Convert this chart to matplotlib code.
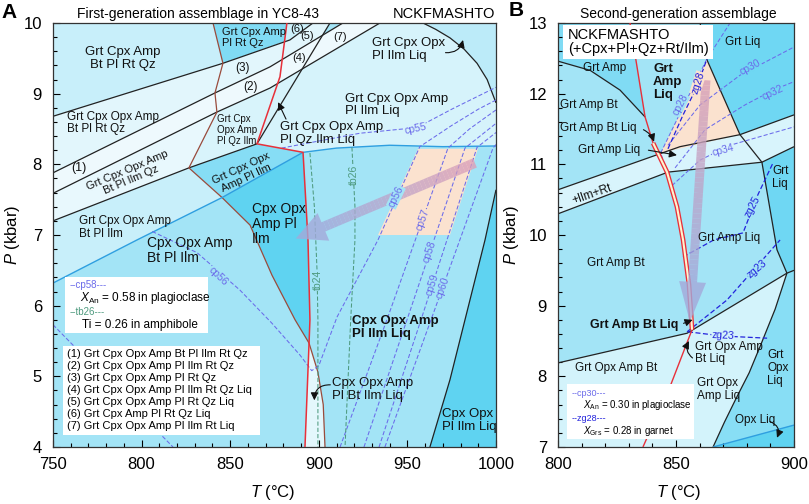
import numpy as np
import matplotlib
matplotlib.use("Agg")
import matplotlib.pyplot as plt
from matplotlib.patches import Polygon, Rectangle, FancyArrowPatch
from matplotlib.collections import LineCollection
from matplotlib.ticker import MultipleLocator
from matplotlib.colors import to_rgb

plt.rcParams["font.family"] = ["Liberation Sans", "DejaVu Sans"]
plt.rcParams["mathtext.fontset"] = "custom"
plt.rcParams["mathtext.rm"] = "Liberation Sans"
plt.rcParams["mathtext.it"] = "Liberation Sans:italic"

# ---- colours ----
C_PALE = "#eef9fd"
C_VLIGHT = "#e2f6fc"
C_LIGHT = "#c8effa"
C_MED = "#a3e4f6"
C_DARK = "#80dbf4"
C_DARKEST = "#5fd3f1"
PEACH = "#fbe2cf"
RED = "#e8303a"
BROWN = "#9a4b3c"
BLUE = "#2f9fe0"
ISO = "#6b6bea"
ZG = "#2323dc"
GREEN = "#4e9a7e"

# ---- panel A: phase boundaries (T degC, P kbar) ----
A_L1 = [(750, 8.68), (845.9, 9.43), (883.7, 9.76), (896.7, 10.0)]
A_L2 = [(750, 7.88), (841.4, 9.01), (872.5, 9.38), (913.6, 10.0)]
A_L3 = [(750, 7.59), (842.5, 8.74), (872.5, 9.08), (934.5, 10.0)]
A_L4 = [(750, 7.20), (826.7, 7.95), (865.1, 8.29)]
A_QZ_OUT = [(865.1, 8.29), (906.3, 10.0)]
A_BROWN = [(840.3, 10.0), (845.9, 9.43), (841.4, 9.01), (842.5, 8.74), (826.7, 7.95),
           (845.4, 7.53), (861.2, 7.14), (873.6, 6.43), (886.6, 5.80), (894.5, 5.47),
           (899.5, 5.06), (902.5, 4.6), (903.5, 4.0)]
A_RED = [(882.0, 10.0), (878.1, 9.24), (865.1, 8.29), (891.1, 8.17), (893.9, 6.93),
         (895.0, 5.80), (894.5, 5.47), (892.2, 4.0)]
A_GRT_OUT = [(750, 6.32), (797.4, 6.93), (845.4, 7.53), (891.1, 8.17)]
A_LIQ = [(891.1, 8.17), (910, 8.23), (940, 8.27), (970, 8.25), (1000, 8.26)]
A_ARC = [(958.8, 10.0), (966, 9.91), (974, 9.79), (982, 9.63), (989.3, 9.43),
         (995, 9.2), (1000, 8.87)]
A_AMP_OUT = [(962.7, 4.0), (974, 4.95), (985.3, 6.08), (993.8, 6.93), (1000, 7.64)]

# isopleths panel A
A_CP55 = [(879, 8.23), (923.2, 8.44), (955.4, 8.52), (975, 8.78), (1000, 9.09)]
A_CP56 = [(806, 7.05), (831.3, 6.75), (855.5, 6.22), (873.6, 5.75), (889.4, 5.30),
          (896, 5.08), (900, 5.15), (910.3, 5.84), (933.4, 6.93), (957, 8.25),
          (975, 8.55), (990, 8.78), (1000, 8.91)]
A_CP57 = [(912, 4.0), (939, 5.84), (972.9, 8.23), (985, 8.5), (1000, 8.77)]
A_CP58 = [(925.5, 4.0), (950.3, 5.84), (982.5, 8.23), (992, 8.42), (1000, 8.58)]
A_CP59 = [(934, 4.0), (958.2, 5.84), (989.3, 8.24), (1000, 8.45)]
A_CP60 = [(937.3, 4.0), (963.9, 5.84), (998.3, 8.23), (1000, 8.28)]
A_CP_LOW = [(750, 5.73), (817.7, 4.0)]
A_TB24 = [(895, 8.16), (897.5, 7.4), (899, 6.5), (899.5, 5.8), (899.5, 4.0)]
A_TB26 = [(918.7, 8.24), (920.4, 7.4), (920.4, 6.93), (918, 5.8), (914.8, 4.0)]
A_PEACH = [(956, 8.22), (989.8, 8.22), (974, 7.0), (933.4, 7.0)]
A_ARROW = [(988.1, 8.02), (887, 6.95)]

# fields panel A (colour, outline)
A_FIELDS = [
    (C_LIGHT, [(750, 10), (840.3, 10), (845.9, 9.43), (750, 8.68)]),
    (C_VLIGHT, [(750, 8.68), (845.9, 9.43), (841.4, 9.01), (750, 7.88)]),
    (C_PALE, [(750, 7.88), (841.4, 9.01), (842.5, 8.74), (750, 7.59)]),
    ("#e8f8fd", [(750, 7.59), (842.5, 8.74), (826.7, 7.95), (750, 7.20)]),
    (C_LIGHT, [(750, 7.20), (826.7, 7.95), (845.4, 7.53), (797.4, 6.93), (750, 6.32)]),
    (C_DARK, [(840.3, 10), (882, 10), (880.7, 9.74), (845.9, 9.43)]),
    (C_VLIGHT, [(845.9, 9.43), (880.7, 9.74), (879.3, 9.48), (872.5, 9.38), (841.4, 9.01)]),
    (C_PALE, [(841.4, 9.01), (872.5, 9.38), (879.3, 9.48), (877.0, 9.16), (872.5, 9.08),
              (842.5, 8.74)]),
    ("#d8f4fb", [(842.5, 8.74), (872.5, 9.08), (877.0, 9.16), (865.1, 8.29), (826.7, 7.95)]),
    ("#86ddf5", [(826.7, 7.95), (865.1, 8.29), (891.1, 8.17), (845.4, 7.53)]),
    (C_DARKEST, [(845.4, 7.53), (891.1, 8.17), (893.9, 6.93), (895.0, 5.80), (894.5, 5.47),
                 (886.6, 5.80), (873.6, 6.43), (861.2, 7.14)]),
    ("#e3f7fc", [(894.5, 5.47), (899.5, 5.06), (902.5, 4.6), (903.5, 4.0), (892.2, 4.0)]),
    ("#cdf0fa", [(882, 10), (896.7, 10), (883.7, 9.76), (880.7, 9.74)]),
    (C_VLIGHT, [(880.7, 9.74), (883.7, 9.76), (896.7, 10), (906.3, 10), (902.1, 9.83),
                (879.3, 9.48)]),
    (C_PALE, [(879.3, 9.48), (902.1, 9.83), (890.6, 9.35), (877.0, 9.16)]),
    (C_PALE, [(902.1, 9.83), (913.6, 10), (934.5, 10), (890.6, 9.35)]),
    ("#d6f3fb", [(865.1, 8.29), (877.0, 9.16), (890.6, 9.35), (934.5, 10.0)] + A_ARC
     + A_LIQ[::-1]),
    ("#bcebf9", A_ARC + [(1000, 10)]),
    (C_DARKEST, A_AMP_OUT + [(1000, 4.0)]),
    (PEACH, A_PEACH),
]

# ---- panel B ----
B_BT_OUT = [(800, 12.46), (813.6, 12.33), (826.3, 12.05), (836.9, 11.67)]
B_RED = [(830.5, 13.0), (836.9, 11.67), (840.3, 11.30), (846.2, 10.89), (850.4, 10.4),
         (853, 9.93), (855.5, 9.3), (856.8, 8.66), (848, 7.9), (836, 7.0)]
B_RED_DOUBLE = [(840.3, 11.30), (846.2, 10.89), (850.4, 10.4), (853, 9.93), (855.5, 9.3),
                (856.8, 8.66)]
B_BAND_UP = [(800, 10.64), (851.7, 11.25), (877.1, 11.42), (900, 11.70)]
B_BAND_LO = [(800, 10.30), (846.6, 10.89), (886.4, 11.03), (900, 11.25)]
B_AMP_OUT = [(860.2, 13.0), (863.1, 12.48), (877.1, 11.42), (886.4, 11.03), (892.8, 9.79),
             (897, 9.46)]
B_OPX_IN = [(800, 8.19), (854.7, 8.61), (897, 9.46), (900, 9.50)]
B_OPX_CURVE = [(897, 9.46), (892, 8.95), (885.6, 8.42), (881, 8.05), (875.8, 7.71),
               (870.5, 7.35), (865.7, 7.0)]
B_OPX_LIQ = [(865.7, 7.0), (900, 7.31)]
B_PEACH = [(843.5, 11.16), (863.1, 12.49), (877.1, 11.42)]
B_CP28 = [(848.7, 10.66), (843.5, 11.16), (853.3, 11.83), (863.1, 12.49), (872.9, 13.0)]
B_ZG28 = [(846.6, 11.22), (853, 11.7), (858.9, 12.1), (863.1, 12.49)]
B_CP30 = [(846.6, 11.27), (860.2, 11.84), (877.1, 12.26), (900, 12.66)]
B_CP32 = [(849.6, 10.95), (862.3, 11.49), (879.2, 11.84), (891.1, 12.05), (900, 12.17)]
B_CP34 = [(848.3, 10.70), (860.2, 11.06), (872.9, 11.27), (900, 11.53)]
B_ZG25 = [(853, 9.69), (866, 9.93), (878.4, 10.03), (884.7, 10.57), (891.1, 11.02)]
B_ZG23A = [(854.7, 8.63), (871.6, 9.08), (894.1, 9.93)]
B_ZG23B = [(855.1, 8.63), (870, 8.57), (888.6, 8.54)]
B_ARROW = [(862.7, 12.19), (855.9, 8.77)]

B_FIELDS = [
    (C_DARK, [(800, 13), (830.5, 13)] + B_BT_OUT[::-1]),
    ("#6fd7f3", [(860.2, 13), (900, 13), (900, 9.50), (897, 9.46), (892.8, 9.79),
                 (886.4, 11.03), (877.1, 11.42), (863.1, 12.48)]),
    ("#d8f4fc", B_BAND_UP + B_BAND_LO[::-1]),
    (PEACH, B_PEACH),
    ("#d3f3fb", [(800, 7), (800, 8.19), (854.7, 8.61)] + B_OPX_CURVE),
    ("#88def5", [(897, 9.46), (900, 9.50), (900, 7.31)] + B_OPX_CURVE[::-1]),
    (C_DARKEST, [(865.7, 7.0), (900, 7.0), (900, 7.31)]),
]


def xy(pts):
    a = np.array(pts, dtype=float)
    return a[:, 0], a[:, 1]


def line(ax, pts, color="#222222", lw=0.9, ls="-", z=2):
    x, y = xy(pts)
    ax.plot(x, y, color=color, lw=lw, ls=ls, zorder=z, solid_capstyle="butt")


def iso(ax, pts, color=ISO, lw=0.75):
    line(ax, pts, color=color, lw=lw, ls=(0, (4, 2)), z=2.5)


def label(ax, x, y, s, size=9, ha="left", rot=0, weight="normal", color="#111111",
          bg=None, z=4):
    kw = {}
    if bg is not None:
        kw["bbox"] = dict(fc=bg, ec="none", pad=0.3)
    ax.text(x, y, s, fontsize=size, ha=ha, va="center", rotation=rot, color=color,
            fontweight=weight, zorder=z, linespacing=1.1, rotation_mode="anchor", **kw)


def pointer(ax, xy_to, xy_from, rad=0.3):
    ax.annotate("", xy=xy_to, xytext=xy_from, zorder=4,
                arrowprops=dict(arrowstyle="-|>,head_length=0.45,head_width=0.22",
                                color="#111111", lw=0.8, shrinkA=0, shrinkB=0,
                                connectionstyle=f"arc3,rad={rad}"))


def fat_arrow(ax, tail, tip, c0, c1, shaft_px, head_w_px, head_l_px):
    dpi = ax.figure.dpi
    t0 = ax.transData.transform(tail)
    t1 = ax.transData.transform(tip)
    length = np.hypot(*(t1 - t0))
    frac = 1 - (head_l_px + 2) / length
    s = np.linspace(0, frac, 40)
    pts = np.array(tail) + (np.array(tip) - np.array(tail)) * s[:, None]
    segs = np.stack([pts[:-1], pts[1:]], axis=1)
    a, b = np.array(to_rgb(c0)), np.array(to_rgb(c1))
    cols = [tuple(a + (b - a) * v / frac) for v in s[:-1]]
    ax.add_collection(LineCollection(segs, colors=cols, linewidths=shaft_px * 72 / dpi,
                                     alpha=0.8, zorder=3, capstyle="butt"))
    ms = 10
    pt = 72 / dpi / ms
    arr = FancyArrowPatch(tuple(pts[-1]), tip, shrinkA=0, shrinkB=0, mutation_scale=ms,
                          arrowstyle=f"simple,head_length={head_l_px * pt:.2f},"
                                     f"head_width={head_w_px * pt:.2f},"
                                     f"tail_width={shaft_px * pt:.2f}",
                          fc=c1, ec="none", alpha=0.8, zorder=3)
    ax.add_patch(arr)


def style_axes(ax, xlim, ylim):
    ax.set_xlim(*xlim)
    ax.set_ylim(*ylim)
    ax.xaxis.set_major_locator(MultipleLocator(50))
    ax.xaxis.set_minor_locator(MultipleLocator(10))
    ax.yaxis.set_major_locator(MultipleLocator(1))
    ax.yaxis.set_minor_locator(MultipleLocator(0.2))
    ax.tick_params(which="both", direction="in", top=False, right=False, width=0.8,
                   labelsize=12)
    ax.tick_params(which="major", length=5)
    ax.tick_params(which="minor", length=3)
    ax.tick_params(axis="x", pad=7)
    ax.tick_params(axis="y", pad=8)
    for sp in ax.spines.values():
        sp.set_linewidth(0.9)
        sp.set_color("#333333")
    ax.set_xlabel(r"$\it{T}$ (°C)", fontsize=12)
    ax.set_ylabel(r"$\it{P}$ (kbar)", fontsize=12)


fig = plt.figure(figsize=(8.09, 5.04), dpi=100)
axA = fig.add_axes([53 / 809, 57 / 504, 443 / 809, 424 / 504])
axB = fig.add_axes([558 / 809, 57 / 504, 236 / 809, 424 / 504])

# ================= panel A =================
style_axes(axA, (750, 1000), (4, 10))
axA.xaxis.set_label_coords(0.497, -0.085)
axA.yaxis.set_label_coords(-0.07, 0.5)
axA.set_facecolor(C_MED)
for col, pts in A_FIELDS:
    axA.add_patch(Polygon(pts, closed=True, fc=col, ec="none", zorder=1))

for pts in (A_L1, A_L2, A_L3, A_L4, A_QZ_OUT, A_ARC, A_AMP_OUT):
    line(axA, pts)
line(axA, A_BROWN, color=BROWN, lw=0.9)
line(axA, A_GRT_OUT, color=BLUE, lw=1.0)
line(axA, A_LIQ, color=BLUE, lw=1.0)
line(axA, A_RED, color=RED, lw=1.1, z=2.6)
for pts in (A_CP55, A_CP56, A_CP57, A_CP58, A_CP59, A_CP60, A_CP_LOW):
    iso(axA, pts)
for pts in (A_TB24, A_TB26):
    line(axA, pts, color=GREEN, lw=0.75, ls=(0, (4, 2)), z=2.5)

fat_arrow(axA, A_ARROW[0], A_ARROW[1], "#dca0b8", "#a3a9da", 10, 30, 30)

label(axA, 789.5, 9.50, "Grt Cpx Amp\nBt Pl Rt Qz", 9.5, ha="center")
label(axA, 757.9, 8.585, "Grt Cpx Opx Amp\nBt Pl Rt Qz", 8.5)
label(axA, 764.7, 7.95, "(1)", 9, ha="center")
label(axA, 793, 7.85, "Grt Cpx Opx Amp\nBt Pl Ilm Qz", 8, ha="center", rot=23)
label(axA, 764.7, 7.10, "Grt Cpx Opx Amp\nBt Pl Ilm", 8.5)
label(axA, 803, 6.78, "Cpx Opx Amp\nBt Pl Ilm", 10)
label(axA, 845.4, 9.80, "Grt Cpx Amp\nPl Rt Qz", 8)
label(axA, 857.2, 9.36, "(3)", 8.5, ha="center")
label(axA, 861.2, 9.10, "(2)", 8.5, ha="center")
label(axA, 887.5, 9.92, "(6)", 8, ha="center")
label(axA, 893.5, 9.82, "(5)", 8, ha="center")
label(axA, 889, 9.50, "(4)", 8, ha="center")
label(axA, 912, 9.80, "(7)", 8, ha="center")
label(axA, 842.3, 8.49, "Grt Cpx\nOpx Amp\nPl Qz Ilm", 7)
label(axA, 857.5, 7.87, "Grt Cpx Opx\nAmp Pl Ilm", 8, ha="center", rot=25)
label(axA, 862.3, 7.16, "Cpx Opx\nAmp Pl\nIlm", 10)
label(axA, 914.8, 8.84, "Grt Cpx Opx Amp\nPl Ilm Liq", 9.5)
label(axA, 878.1, 8.44, "Grt Cpx Opx Amp\nPl Qz Ilm Liq", 9.5)
pointer(axA, (877, 8.88), (881.5, 8.64), rad=0.0)
label(axA, 930, 9.62, "Grt Cpx Opx\nPl Ilm Liq", 9.5)
pointer(axA, (981.4, 9.76), (971.5, 9.58), rad=0.4)
label(axA, 918.7, 5.69, "Cpx Opx Amp\nPl Ilm Liq", 9.5, weight="bold")
label(axA, 907.4, 4.81, "Cpx Opx Amp\nPl Bt Ilm Liq", 9.5)
pointer(axA, (897.5, 4.66), (906.5, 4.88), rad=0.5)
label(axA, 969.5, 4.37, "Cpx Opx\nPl Ilm Liq", 9.5)

# isopleth labels A
label(axA, 954.3, 8.50, "cp55", 7.5, ha="center", rot=12, color=ISO, bg="#d6f3fb")
label(axA, 843.1, 6.41, "cp56", 7.5, ha="center", rot=-44, color=ISO, bg=C_MED)
label(axA, 943.5, 7.54, "cp56", 7.5, ha="center", rot=64, color=ISO, bg=C_MED)
label(axA, 958.6, 7.21, "cp57", 7.5, ha="center", rot=70, color=ISO, bg=PEACH)
label(axA, 962.7, 6.76, "cp58", 7.5, ha="center", rot=71, color=ISO, bg=C_MED)
label(axA, 964.2, 6.29, "cp59", 7.5, ha="center", rot=72, color=ISO, bg=C_MED)
label(axA, 970.0, 6.25, "cp60", 7.5, ha="center", rot=70, color=ISO, bg=C_MED)
label(axA, 899.3, 6.36, "tb24", 7.5, ha="center", rot=90, color=GREEN, bg=C_MED)
label(axA, 919.8, 7.85, "tb26", 7.5, ha="center", rot=90, color=GREEN, bg=C_MED)

# legend boxes A
axA.add_patch(Rectangle((756.8, 5.61), 80.7, 0.80, fc="white", ec="none", zorder=5))
axA.text(759.6, 6.29, "--cp58---", fontsize=7, color=ISO, va="center", zorder=6)
axA.text(765.2, 6.11, r"$\it{X}_{\rm An}$ = 0.58 in plagioclase", fontsize=8.5,
         va="center", zorder=6)
axA.text(759.6, 5.91, "--tb26---", fontsize=7, color=GREEN, va="center", zorder=6)
axA.text(766.4, 5.73, "Ti = 0.26 in amphibole", fontsize=8.5, va="center", zorder=6)

axA.add_patch(Rectangle((755.6, 4.17), 111.2, 1.26, fc="white", ec="none", zorder=5))
assemblages = ["(1) Grt Cpx Opx Amp Bt Pl Ilm Rt Qz",
               "(2) Grt Cpx Opx Amp Pl Ilm Rt Qz",
               "(3) Grt Cpx Opx Amp Pl Rt Qz",
               "(4) Grt Cpx Opx Amp Pl Ilm Rt Qz Liq",
               "(5) Grt Cpx Opx Amp Pl Rt Qz Liq",
               "(6) Grt Cpx Amp Pl Rt Qz Liq",
               "(7) Grt Cpx Opx Amp Pl Ilm Rt Liq"]
for i, s in enumerate(assemblages):
    axA.text(757.9, 5.32 - i * 0.17, s, fontsize=8, va="center", zorder=6)

# ================= panel B =================
style_axes(axB, (800, 900), (7, 13))
axB.xaxis.set_label_coords(0.513, -0.085)
axB.yaxis.set_label_coords(-0.157, 0.5)
axB.set_facecolor(C_MED)
for col, pts in B_FIELDS:
    axB.add_patch(Polygon(pts, closed=True, fc=col, ec="none", zorder=1))

for pts in (B_BT_OUT, B_BAND_UP, B_BAND_LO, B_AMP_OUT, B_OPX_IN, B_OPX_CURVE):
    line(axB, pts)
line(axB, B_OPX_LIQ, color=BLUE, lw=1.0)
line(axB, B_RED_DOUBLE, color=RED, lw=3.4, z=2.6)
line(axB, B_RED_DOUBLE, color="#fff3cf", lw=1.5, z=2.7)
line(axB, B_RED, color=RED, lw=1.0, z=2.6)
for pts in (B_CP28, B_CP30, B_CP32, B_CP34):
    iso(axB, pts)
for pts in (B_ZG28, B_ZG25, B_ZG23A, B_ZG23B):
    iso(axB, pts, color=ZG, lw=0.9)

fat_arrow(axB, B_ARROW[0], B_ARROW[1], "#d9a0b6", "#a3a9da", 9, 27, 40)

axB.add_patch(Rectangle((802.1, 12.49), 63.6, 0.48, fc="white", ec="none", zorder=5))
axB.text(804.2, 12.73, "NCKFMASHTO\n(+Cpx+Pl+Qz+Rt/Ilm)", fontsize=10.5, va="center",
         zorder=6, linespacing=1.05)

label(axB, 819.9, 12.36, "Grt Amp", 8.5, ha="center")
label(axB, 800.8, 11.84, "Grt Amp Bt", 8.5)
label(axB, 800.8, 11.51, "Grt Amp Bt Liq", 8.5)
pointer(axB, (840.7, 11.32), (836.2, 11.49), rad=-0.2)
label(axB, 808.5, 11.20, "Grt Amp Liq", 8.5)
pointer(axB, (850.4, 11.13), (838.3, 11.20), rad=0.0)
label(axB, 840.3, 12.17, "Grt\nAmp\nLiq", 9.5, weight="bold")
label(axB, 870.8, 12.73, "Grt Liq", 8.5)
label(axB, 890.7, 10.82, "Grt\nLiq", 8.5)
label(axB, 814.4, 10.57, "+Ilm+Rt", 8.5, ha="center", rot=19)
label(axB, 859.3, 9.96, "Grt Amp Liq", 8.5)
label(axB, 812.3, 9.60, "Grt Amp Bt", 8.5)
label(axB, 813.6, 8.73, "Grt Amp Bt Liq", 9, weight="bold")
pointer(axB, (857.0, 8.80), (853.2, 8.75), rad=0.0)
label(axB, 858.0, 8.33, "Grt Opx Amp\nBt Liq", 8.5)
pointer(axB, (855.5, 8.50), (857.0, 8.26), rad=-0.4)
label(axB, 807.2, 8.12, "Grt Opx Amp Bt", 8.5)
label(axB, 858.9, 7.81, "Grt Opx\nAmp Liq", 8.5)
label(axB, 888.6, 8.12, "Grt\nOpx\nLiq", 8.5)
label(axB, 875.0, 7.38, "Opx Liq", 8.5)
pointer(axB, (892.8, 7.13), (889.8, 7.36), rad=-0.5)

label(axB, 851.7, 11.84, "cp28", 7.5, ha="center", rot=62, color=ISO, bg=C_MED)
label(axB, 859.3, 12.15, "zg28", 7.5, ha="center", rot=72, color=ZG, bg=PEACH)
label(axB, 881.4, 12.38, "cp30", 7.5, ha="center", rot=28, color=ISO, bg="#6fd7f3")
label(axB, 891.1, 12.02, "cp32", 7.5, ha="center", rot=25, color=ISO, bg="#6fd7f3")
label(axB, 869.9, 11.20, "cp34", 7.5, ha="center", rot=15, color=ISO, bg="#d8f4fc")
label(axB, 882.6, 10.40, "zg25", 7.5, ha="center", rot=62, color=ZG, bg=C_MED)
label(axB, 884.3, 9.52, "zg23", 7.5, ha="center", rot=40, color=ZG, bg=C_MED)
label(axB, 869.9, 8.57, "zg23", 7.5, ha="center", rot=-3, color=ZG, bg="#d3f3fb")

axB.add_patch(Rectangle((803.8, 7.11), 53.8, 0.78, fc="white", ec="none", zorder=5))
axB.text(805.9, 7.76, "--cp30---", fontsize=6.5, color=ISO, va="center", zorder=6)
axB.text(810.6, 7.59, r"$\it{X}_{\rm An}$ = 0.30 in plagioclase", fontsize=7,
         va="center", zorder=6)
axB.text(805.9, 7.40, "--zg28---", fontsize=6.5, color=ZG, va="center", zorder=6)
axB.text(810.6, 7.23, r"$\it{X}_{\rm Grs}$ = 0.28 in garnet", fontsize=7,
         va="center", zorder=6)

# ---- figure texts ----
fig.text(9 / 809, 1 - 12 / 504, "A", fontsize=15, fontweight="bold", ha="center",
         va="center")
fig.text(516 / 809, 1 - 11 / 504, "B", fontsize=15, fontweight="bold", ha="center",
         va="center")
fig.text(77 / 809, 1 - 14 / 504, "First-generation assemblage in YC8-43", fontsize=10,
         ha="left", va="center")
fig.text(495 / 809, 1 - 14 / 504, "NCKFMASHTO", fontsize=10.5, ha="right", va="center")
fig.text(678 / 809, 1 - 14 / 504, "Second-generation assemblage", fontsize=10,
         ha="center", va="center")

fig.savefig("out.png", dpi=100)
